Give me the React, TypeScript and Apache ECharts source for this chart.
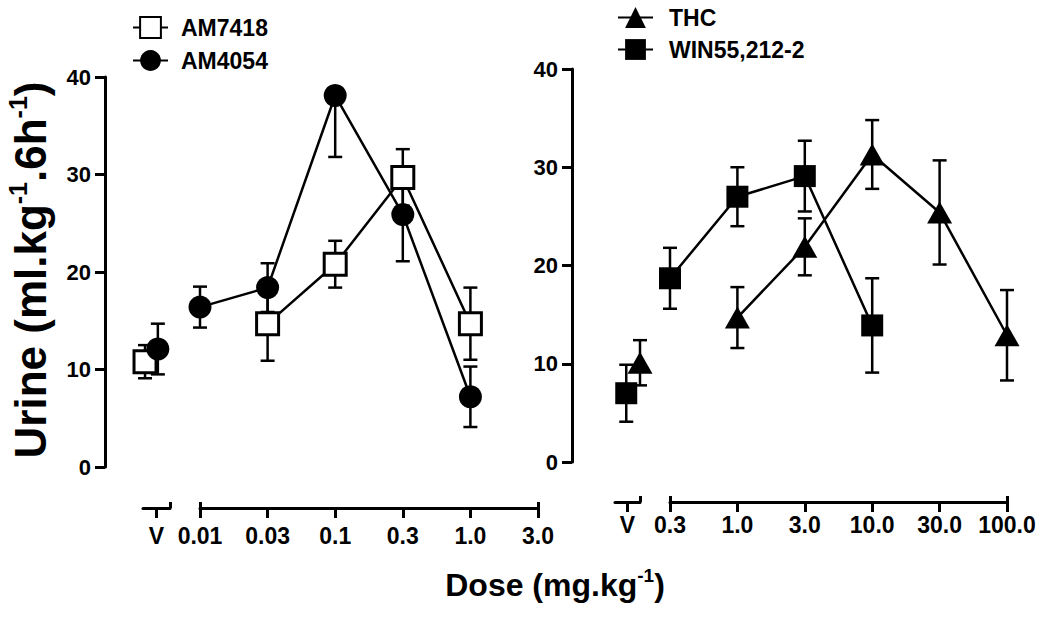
import React, { useEffect, useRef } from 'react';
import * as echarts from 'echarts';

// ---------- data ----------
const leftDoses = ['0.01', '0.03', '0.1', '0.3', '1.0', '3.0'];
const rightDoses = ['0.3', '1.0', '3.0', '10.0', '30.0', '100.0'];
const vehicleLabel = 'V';
const yMin = 0;
const yMax = 40;
const yStep = 10;

// left panel
const am7418Mean = [null, 14.7, 20.8, 29.7, 14.7, null];
const am7418Sem = [null, 3.8, 2.4, 2.9, 3.7, null];
const am7418Vehicle = 10.8;
const am7418VehicleSem = 1.7;
const am7418VehicleJitter = -0.85;

const am4054Mean = [16.4, 18.4, 38.1, 25.9, 7.2, null];
const am4054Sem = [2.1, 2.5, 6.3, 4.8, 3.1, null];
const am4054Vehicle = 12.1;
const am4054VehicleSem = 2.6;
const am4054VehicleJitter = 0.1;

// right panel
const thcMean = [null, 14.7, 21.9, 31.3, 25.4, 12.9];
const thcSem = [null, 3.1, 2.9, 3.5, 5.3, 4.6];
const thcVehicle = 10.1;
const thcVehicleSem = 2.3;
const thcVehicleJitter = 1.0;

const winMean = [18.7, 27.0, 29.1, 13.9, null, null];
const winSem = [3.1, 3.0, 3.6, 4.8, null, null];
const winVehicle = 7.0;
const winVehicleSem = 2.9;
const winVehicleJitter = -0.1;

const FONT = '"Liberation Sans", Arial, Helvetica, sans-serif';
const BLACK = '#000';

function errData(means: (number | null)[], sems: (number | null)[]) {
  const out: any[] = [];
  means.forEach((m, i) => {
    if (m != null && sems[i] != null) out.push([i, m, sems[i]]);
  });
  return out;
}

function errorBarSeries(name: string, xIdx: number, yIdx: number, data: any[]) {
  return {
    type: 'custom',
    name: name + '-err',
    xAxisIndex: xIdx,
    yAxisIndex: yIdx,
    z: 1,
    silent: true,
    clip: false,
    data,
    renderItem: (_params: any, api: any) => {
      const x = api.value(0);
      const m = api.value(1);
      const e = api.value(2);
      const c = api.coord([x, m]);
      const lo = api.coord([x, Math.max(yMin, m - e)]);
      const showTop = m + e <= yMax;
      const hi = api.coord([x, showTop ? m + e : m]);
      const cap = 7;
      const st = { stroke: BLACK, lineWidth: 2.5 };
      const children: any[] = [
        { type: 'line', shape: { x1: c[0], y1: lo[1], x2: c[0], y2: hi[1] }, style: st },
        { type: 'line', shape: { x1: c[0] - cap, y1: lo[1], x2: c[0] + cap, y2: lo[1] }, style: st },
      ];
      if (showTop) {
        children.push({ type: 'line', shape: { x1: c[0] - cap, y1: hi[1], x2: c[0] + cap, y2: hi[1] }, style: st });
      }
      return { type: 'group', children };
    },
  };
}

const labelStyle = { color: BLACK, fontFamily: FONT, fontWeight: 'bold' as const, fontSize: 22 };
const xLabelStyle = { ...labelStyle, fontSize: 23 };

function vAxis(gridIndex: number, offset: number, margin: number) {
  return {
    type: 'value', gridIndex, position: 'bottom', min: -1, max: 1, offset,
    axisLine: { show: true, onZero: false, lineStyle: { color: BLACK, width: 3 } },
    axisTick: { show: true, customValues: [0], length: 10, lineStyle: { color: BLACK, width: 3 } },
    axisLabel: { show: true, customValues: [0], formatter: () => vehicleLabel, margin, ...xLabelStyle },
    splitLine: { show: false },
  };
}
function vCapAxis(gridIndex: number, offset: number) {
  return {
    type: 'value', gridIndex, position: 'bottom', min: -1, max: 1, offset,
    axisLine: { show: false, onZero: false },
    axisTick: { show: true, inside: true, customValues: [1], length: 6, lineStyle: { color: BLACK, width: 3 } },
    axisLabel: { show: false },
    splitLine: { show: false },
  };
}
function mainAxis(gridIndex: number, offset: number, margin: number, cats: string[]) {
  return {
    type: 'category', gridIndex, position: 'bottom', data: cats, boundaryGap: false, offset,
    axisLine: { show: true, onZero: false, lineStyle: { color: BLACK, width: 3 } },
    axisTick: { show: true, interval: 0, length: 10, lineStyle: { color: BLACK, width: 3 } },
    axisLabel: { show: true, interval: 0, margin, ...xLabelStyle },
    splitLine: { show: false },
  };
}
function mainCapAxis(gridIndex: number, offset: number, n: number) {
  return {
    type: 'value', gridIndex, position: 'bottom', min: 0, max: n - 1, offset,
    axisLine: { show: false, onZero: false },
    axisTick: { show: true, inside: true, customValues: [0, n - 1], length: 6, lineStyle: { color: BLACK, width: 3 } },
    axisLabel: { show: false },
    splitLine: { show: false },
  };
}
function yAxisShown(gridIndex: number, offset: number) {
  return {
    type: 'value', gridIndex, position: 'left', min: yMin, max: yMax, interval: yStep, offset,
    axisLine: { show: true, onZero: false, lineStyle: { color: BLACK, width: 3 } },
    axisTick: { show: true, length: 10, lineStyle: { color: BLACK, width: 3 } },
    axisLabel: { show: true, margin: 14, ...labelStyle },
    splitLine: { show: false },
  };
}
function yAxisHidden(gridIndex: number) {
  return { type: 'value', gridIndex, min: yMin, max: yMax, show: false, axisLine: { onZero: false }, splitLine: { show: false } };
}

const openSquare = { symbol: 'rect', symbolSize: 22, itemStyle: { color: '#fff', borderColor: BLACK, borderWidth: 3, opacity: 1 } };
const filledCircle = { symbol: 'circle', symbolSize: 23, itemStyle: { color: BLACK, borderColor: BLACK, borderWidth: 0, opacity: 1 } };
const filledTriangle = { symbol: 'triangle', symbolSize: [25, 22], itemStyle: { color: BLACK, borderColor: BLACK, borderWidth: 0, opacity: 1 } };
const filledSquare = { symbol: 'rect', symbolSize: 22, itemStyle: { color: BLACK, borderColor: BLACK, borderWidth: 0, opacity: 1 } };

function lineSeries(name: string, xIdx: number, yIdx: number, data: any[], sym: any, z: number) {
  return {
    type: 'line', name, xAxisIndex: xIdx, yAxisIndex: yIdx, data, connectNulls: false,
    showSymbol: true, showAllSymbol: true, clip: false, z,
    lineStyle: { color: BLACK, width: 2.5 }, ...sym,
  };
}
function vehicleSeries(name: string, xIdx: number, yIdx: number, x: number, y: number, sym: any, z: number) {
  return {
    type: 'scatter', name, xAxisIndex: xIdx, yAxisIndex: yIdx, data: [[x, y]], clip: false, z, ...sym,
  };
}

export default function App() {
  const ref = useRef<HTMLDivElement>(null);
  useEffect(() => {
    if (!ref.current) return;
    const chart = echarts.init(ref.current, null, { renderer: 'svg' });
    const option: any = {
      animation: false,
      backgroundColor: '#fff',
      grid: [
        { left: 143, width: 27, top: 77, height: 390 },
        { left: 200, width: 338, top: 77, height: 390 },
        { left: 615, width: 25, top: 69, height: 393 },
        { left: 670, width: 337, top: 69, height: 393 },
      ],
      xAxis: [
        vAxis(0, 41, 16),
        mainAxis(1, 41, 16, leftDoses),
        vCapAxis(0, 41),
        mainCapAxis(1, 41, leftDoses.length),
        vAxis(2, 40, 11),
        mainAxis(3, 40, 11, rightDoses),
        vCapAxis(2, 40),
        mainCapAxis(3, 40, rightDoses.length),
      ],
      yAxis: [
        yAxisHidden(0),
        yAxisShown(1, 95),
        yAxisHidden(2),
        yAxisShown(3, 98),
      ],
      legend: [
        {
          data: ['AM7418', 'AM4054'], orient: 'vertical', left: 127, top: 11,
          itemWidth: 35, itemHeight: 26, itemGap: 10, selectedMode: false,
          textStyle: { color: BLACK, fontFamily: FONT, fontWeight: 'bold', fontSize: 23, padding: [0, 0, 0, 8] },
        },
        {
          data: ['THC', 'WIN55,212-2'], orient: 'vertical', left: 612, top: 1,
          itemWidth: 35, itemHeight: 26, itemGap: 9, selectedMode: false,
          textStyle: { color: BLACK, fontFamily: FONT, fontWeight: 'bold', fontSize: 23, padding: [0, 0, 0, 11] },
        },
      ],
      graphic: [
        {
          type: 'text', x: 30, y: 270, rotation: Math.PI / 2,
          style: {
            text: '{a|Urine (ml.kg}{s|-1}{a|.6h}{s|-1}{a|)}',
            align: 'center', verticalAlign: 'middle', fill: BLACK,
            rich: {
              a: { fontFamily: FONT, fontWeight: 'bold', fontSize: 44, lineHeight: 50, fill: BLACK, color: BLACK },
              s: { fontFamily: FONT, fontWeight: 'bold', fontSize: 25, lineHeight: 25, verticalAlign: 'top', fill: BLACK, color: BLACK },
            },
          },
        },
        {
          type: 'text', x: 555, y: 585,
          style: {
            text: '{a|Dose (mg.kg}{s|-1}{a|)}',
            align: 'center', verticalAlign: 'middle', fill: BLACK,
            rich: {
              a: { fontFamily: FONT, fontWeight: 'bold', fontSize: 32, lineHeight: 38, fill: BLACK, color: BLACK },
              s: { fontFamily: FONT, fontWeight: 'bold', fontSize: 19, lineHeight: 19, verticalAlign: 'top', fill: BLACK, color: BLACK },
            },
          },
        },
      ],
      series: [
        lineSeries('AM7418', 1, 1, am7418Mean, openSquare, 3),
        lineSeries('AM4054', 1, 1, am4054Mean, filledCircle, 4),
        lineSeries('THC', 5, 3, thcMean, filledTriangle, 4),
        lineSeries('WIN55,212-2', 5, 3, winMean, filledSquare, 3),
        vehicleSeries('AM7418', 0, 0, am7418VehicleJitter, am7418Vehicle, openSquare, 3),
        vehicleSeries('AM4054', 0, 0, am4054VehicleJitter, am4054Vehicle, filledCircle, 4),
        vehicleSeries('THC', 4, 2, thcVehicleJitter, thcVehicle, filledTriangle, 4),
        vehicleSeries('WIN55,212-2', 4, 2, winVehicleJitter, winVehicle, filledSquare, 3),
        errorBarSeries('AM7418', 1, 1, errData(am7418Mean, am7418Sem)),
        errorBarSeries('AM4054', 1, 1, errData(am4054Mean, am4054Sem)),
        errorBarSeries('THC', 5, 3, errData(thcMean, thcSem)),
        errorBarSeries('WIN55,212-2', 5, 3, errData(winMean, winSem)),
        errorBarSeries('AM7418v', 0, 0, [[am7418VehicleJitter, am7418Vehicle, am7418VehicleSem]]),
        errorBarSeries('AM4054v', 0, 0, [[am4054VehicleJitter, am4054Vehicle, am4054VehicleSem]]),
        errorBarSeries('THCv', 4, 2, [[thcVehicleJitter, thcVehicle, thcVehicleSem]]),
        errorBarSeries('WINv', 4, 2, [[winVehicleJitter, winVehicle, winVehicleSem]]),
      ],
    };
    chart.setOption(option);
    return () => chart.dispose();
  }, []);
  return (
    <div
      ref={ref}
      style={{ position: 'fixed', left: 0, top: 0, width: 1050, height: 618, background: '#fff' }}
    />
  );
}
